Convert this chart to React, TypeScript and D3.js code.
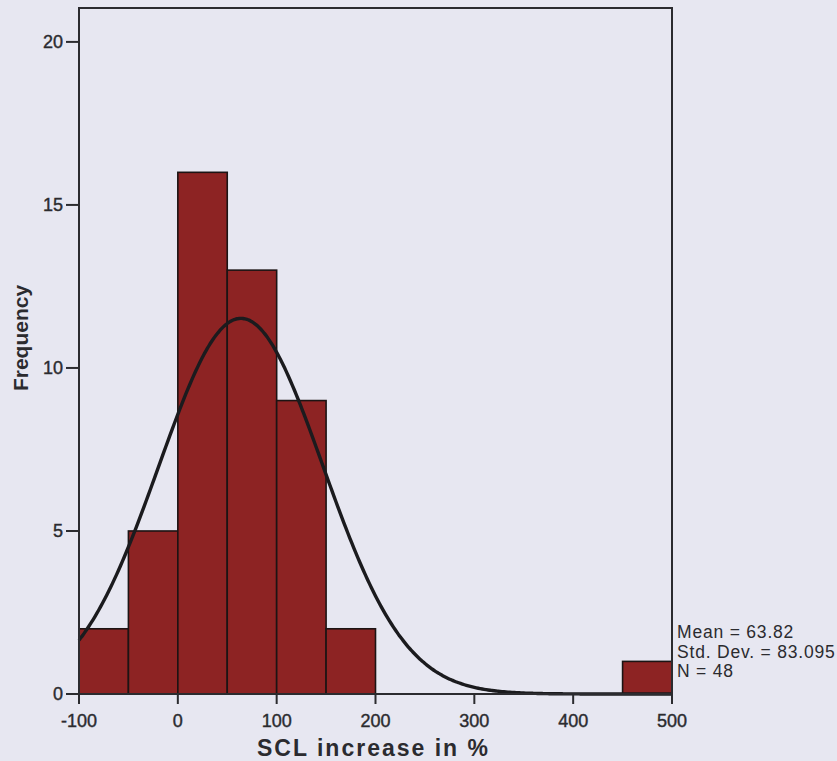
import React, { useEffect, useRef } from "react";
import * as d3 from "d3";

// Histogram of SCL increase (%) with fitted normal curve
const binStarts = [-100, -50, 0, 50, 100, 150, 450];
const binWidth = 50;
const frequencies = [2, 5, 16, 13, 9, 2, 1];
const xTicks = [-100, 0, 100, 200, 300, 400, 500];
const yTicks = [0, 5, 10, 15, 20];
const mean = 63.82;
const stdDev = 83.095;
const n = 48;
const statLines = [`Mean = ${mean}`, `Std. Dev. = ${stdDev}`, `N = ${n}`];

const W = 837;
const H = 761;
const BG = "#e7e7f1";
const BAR = "#8d2323";
const INK = "#2b2b2f";
const FONT = "'Liberation Sans', Arial, sans-serif";

export default function App() {
  const ref = useRef<SVGSVGElement | null>(null);

  useEffect(() => {
    const svg = d3.select(ref.current);
    svg.selectAll("*").remove();

    const left = 79, right = 672, top = 8, bottom = 694;
    const x = d3.scaleLinear().domain([-100, 500]).range([left, right]);
    const y = d3.scaleLinear().domain([0, 21.04]).range([bottom, top]);

    svg.append("rect").attr("width", W).attr("height", H).attr("fill", BG);

    // bars
    svg
      .append("g")
      .selectAll("rect")
      .data(binStarts.map((s, i) => ({ s, f: frequencies[i] })))
      .join("rect")
      .attr("x", (d) => x(d.s))
      .attr("width", (d) => x(d.s + binWidth) - x(d.s))
      .attr("y", (d) => y(d.f))
      .attr("height", (d) => y(0) - y(d.f))
      .attr("fill", BAR)
      .attr("stroke", "#1c1414")
      .attr("stroke-width", 1.6);

    // normal curve scaled to counts
    const scale = n * binWidth;
    const pts = d3.range(-100, 500.01, 2).map((v) => {
      const z = (v - mean) / stdDev;
      return [v, (scale / (stdDev * Math.sqrt(2 * Math.PI))) * Math.exp(-0.5 * z * z)] as [number, number];
    });
    const line = d3
      .line<[number, number]>()
      .x((d) => x(d[0]))
      .y((d) => y(d[1]))
      .curve(d3.curveBasis);
    svg
      .append("path")
      .attr("d", line(pts))
      .attr("fill", "none")
      .attr("stroke", "#1b1b1e")
      .attr("stroke-width", 3.4);

    // frame
    svg
      .append("rect")
      .attr("x", left)
      .attr("y", top)
      .attr("width", right - left)
      .attr("height", bottom - top)
      .attr("fill", "none")
      .attr("stroke", INK)
      .attr("stroke-width", 2);

    // y axis
    const ya = svg.append("g");
    yTicks.forEach((t) => {
      ya.append("line")
        .attr("x1", left - 13)
        .attr("x2", left)
        .attr("y1", y(t))
        .attr("y2", y(t))
        .attr("stroke", INK)
        .attr("stroke-width", 2);
      ya.append("text")
        .attr("x", left - 16)
        .attr("y", y(t))
        .attr("dy", "0.36em")
        .attr("text-anchor", "end")
        .attr("font-family", FONT)
        .attr("font-size", 18)
        .attr("fill", INK)
        .attr("stroke", INK)
        .attr("stroke-width", 0.4)
        .text(t);
    });

    // x axis
    const xa = svg.append("g");
    xTicks.forEach((t) => {
      xa.append("line")
        .attr("x1", x(t))
        .attr("x2", x(t))
        .attr("y1", bottom)
        .attr("y2", bottom + 10)
        .attr("stroke", INK)
        .attr("stroke-width", 2);
      xa.append("text")
        .attr("x", x(t))
        .attr("y", 727)
        .attr("text-anchor", "middle")
        .attr("font-family", FONT)
        .attr("font-size", 18)
        .attr("fill", INK)
        .attr("stroke", INK)
        .attr("stroke-width", 0.4)
        .text(t);
    });

    // axis titles
    svg
      .append("text")
      .attr("x", 257)
      .attr("y", 756)
      .attr("font-family", FONT)
      .attr("font-weight", "bold")
      .attr("font-size", 23)
      .attr("textLength", 231)
      .attr("lengthAdjust", "spacing")
      .attr("fill", INK)
      .text("SCL increase in %");

    svg
      .append("text")
      .attr("transform", "translate(28,338) rotate(-90)")
      .attr("text-anchor", "middle")
      .attr("font-family", FONT)
      .attr("font-weight", "bold")
      .attr("font-size", 21)
      .attr("fill", INK)
      .text("Frequency");

    // summary statistics
    statLines.forEach((s, i) => {
      svg
        .append("text")
        .attr("x", 677)
        .attr("y", 638 + i * 19.5)
        .attr("font-family", FONT)
        .attr("font-size", 17.5)
        .attr("letter-spacing", 0.8)
        .attr("fill", INK)
        .text(s);
    });
  }, []);

  return (
    <svg
      ref={ref}
      width={W}
      height={H}
      style={{ position: "absolute", left: 0, top: 0, display: "block" }}
    />
  );
}
